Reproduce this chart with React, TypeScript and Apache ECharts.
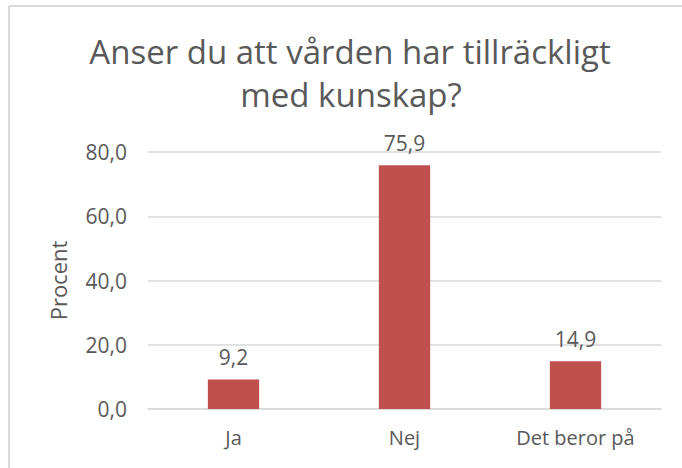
import React, { useEffect, useRef } from "react";
import * as echarts from "echarts";

const categories = ["Ja", "Nej", "Det beror på"];
const values = [9.2, 75.9, 14.9];
const titleLines = ["Anser du att vården har tillräckligt", "med kunskap?"];
const yAxisName = "Procent";

const fmt = (v: number) => v.toFixed(1).replace(".", ",");

export default function App() {
  const ref = useRef<HTMLDivElement>(null);
  useEffect(() => {
    const chart = echarts.init(ref.current!, undefined, { renderer: "svg" });
    const font = "Open Sans, Noto Sans, sans-serif";
    const titleStyle = {
      fontFamily: font,
      fontSize: 33,
      fontWeight: "normal",
      color: "#595959",
    };
    chart.setOption({
      animation: false,
      backgroundColor: "#ffffff",
      title: [
        { text: titleLines[0], left: 350, textAlign: "center", top: 35, padding: 0, textStyle: titleStyle },
        { text: titleLines[1], left: 351, textAlign: "center", top: 78, padding: 0, textStyle: titleStyle },
      ],
      graphic: [
        { type: "line", shape: { x1: 9, y1: 6, x2: 682, y2: 6 }, style: { stroke: "#d9d9d9", lineWidth: 2 } },
        { type: "line", shape: { x1: 9, y1: 6, x2: 9, y2: 468 }, style: { stroke: "#d9d9d9", lineWidth: 2 } },
      ],
      grid: { left: 148, right: 21, top: 152, bottom: 59, containLabel: false },
      xAxis: {
        type: "category",
        data: categories,
        axisTick: { show: false },
        axisLine: { lineStyle: { color: "#d9d9d9", width: 1.5 } },
        axisLabel: { color: "#595959", fontSize: 20, fontFamily: font, margin: 18 },
      },
      yAxis: {
        type: "value",
        min: 0,
        max: 80,
        interval: 20,
        name: yAxisName,
        nameLocation: "middle",
        nameGap: 79,
        nameTextStyle: { color: "#595959", fontSize: 22, fontFamily: font },
        axisLine: { show: false },
        axisTick: { show: false },
        splitLine: { lineStyle: { color: "#d9d9d9", width: 1.5 } },
        axisLabel: {
          color: "#595959",
          fontSize: 21,
          fontFamily: font,
          margin: 21,
          formatter: (v: number) => fmt(v),
        },
      },
      series: [
        {
          type: "bar",
          data: values,
          barWidth: "30%",
          itemStyle: { color: "#c0504d" },
          label: {
            show: true,
            position: "top",
            distance: 12,
            color: "#595959",
            fontSize: 21,
            fontFamily: font,
            formatter: (p: any) => fmt(p.value),
          },
        },
      ],
    });
    return () => chart.dispose();
  }, []);
  return (
    <div
      ref={ref}
      style={{ position: "fixed", left: 0, top: 0, width: 682, height: 468 }}
    />
  );
}
